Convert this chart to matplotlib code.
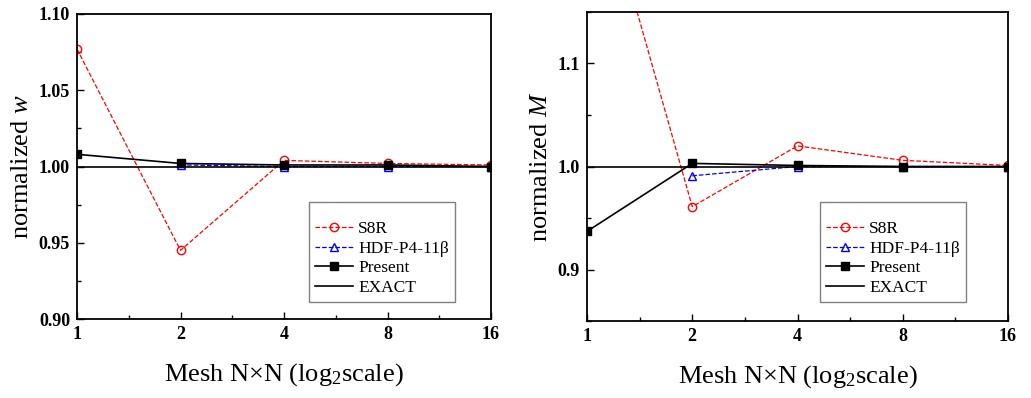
import numpy as np
import matplotlib.pyplot as plt
from matplotlib.ticker import FixedLocator, NullFormatter, MultipleLocator

plt.rcParams['font.family'] = ['Liberation Serif', 'DejaVu Serif']
plt.rcParams['mathtext.fontset'] = 'custom'
plt.rcParams['mathtext.rm'] = 'Liberation Serif'
plt.rcParams['mathtext.it'] = 'Liberation Serif:italic'

# mesh sizes (N x N)
mesh = [1, 2, 4, 8, 16]
mesh_hdf = [2, 4, 8, 16]
tick_labels = ['1', '2', '4', '8', '16']

# normalized deflection w
w_s8r = [1.077, 0.945, 1.004, 1.002, 1.001]
w_hdf = [1.001, 1.000, 1.000, 1.000]
w_present = [1.008, 1.002, 1.001, 1.001, 1.000]

# normalized moment M
m_s8r = [1.322, 0.961, 1.020, 1.006, 1.001]
m_hdf = [0.991, 1.000, 1.000, 1.000]
m_present = [0.937, 1.003, 1.001, 1.000, 1.000]

exact = 1.0

fig = plt.figure(figsize=(10.31, 3.98), dpi=100)
ax1 = fig.add_axes([77 / 1031, 1 - 319 / 398, 414 / 1031, 305 / 398])
ax2 = fig.add_axes([587 / 1031, 1 - 321 / 398, 421 / 1031, 309 / 398])


def draw(ax, s8r, hdf, present, ylim, major, minor, fmt, ylabel, anchor):
    ax.plot(mesh, s8r, '--', color='red', lw=0.9, marker='o', ms=6,
            mfc='none', mec='red', mew=1.0, label='S8R')
    ax.plot(mesh_hdf, hdf, '--', color='blue', lw=0.9, marker='^', ms=6,
            mfc='none', mec='blue', mew=1.0, label='HDF-P4-11\u03b2')
    ax.plot(mesh, present, '-', color='black', lw=1.2, marker='s', ms=5.5,
            label='Present')
    ax.axhline(exact, color='black', lw=1.2, label='EXACT')
    ax.set_xscale('log', base=2)
    ax.set_xlim(1, 16)
    ax.set_ylim(*ylim)
    ax.xaxis.set_major_locator(FixedLocator(mesh))
    ax.set_xticklabels(tick_labels)
    ax.xaxis.set_minor_locator(FixedLocator([np.sqrt(2) * m for m in mesh[:-1]]))
    ax.xaxis.set_minor_formatter(NullFormatter())
    ax.yaxis.set_major_locator(MultipleLocator(major))
    ax.yaxis.set_minor_locator(MultipleLocator(minor))
    ax.yaxis.set_major_formatter(plt.FormatStrFormatter(fmt))
    for lab in ax.get_xticklabels() + ax.get_yticklabels():
        lab.set_fontweight('bold')
        lab.set_fontsize(13)
    ax.tick_params(which='both', direction='in', top=False, right=False)
    ax.tick_params(which='major', length=5, width=1.0, pad=5)
    ax.tick_params(which='minor', length=3, width=1.0)
    for sp in ax.spines.values():
        sp.set_linewidth(1.3)
    ax.set_xlabel('Mesh N\u00d7N (log$_2$scale)', fontsize=19, labelpad=13)
    ax.set_ylabel(ylabel, fontsize=19, labelpad=4)
    leg = ax.legend(loc='lower right', bbox_to_anchor=anchor, fontsize=12.5,
                    frameon=True, fancybox=False, edgecolor='gray',
                    framealpha=1, handlelength=2.2, handletextpad=0.3,
                    labelspacing=0.2, borderpad=0.35, borderaxespad=0,
                    title=' ', title_fontsize=7)
    leg.get_frame().set_linewidth(1.0)


draw(ax1, w_s8r, w_hdf, w_present, (0.90, 1.10), 0.05, 0.025, '%.2f',
     'normalized $\\mathit{w}$', (0.913, 0.056))
draw(ax2, m_s8r, m_hdf, m_present, (0.85, 1.15), 0.1, 0.05, '%.1f',
     'normalized $\\mathit{M}$', (0.90, 0.061))

fig.savefig('out.png', dpi=100)
